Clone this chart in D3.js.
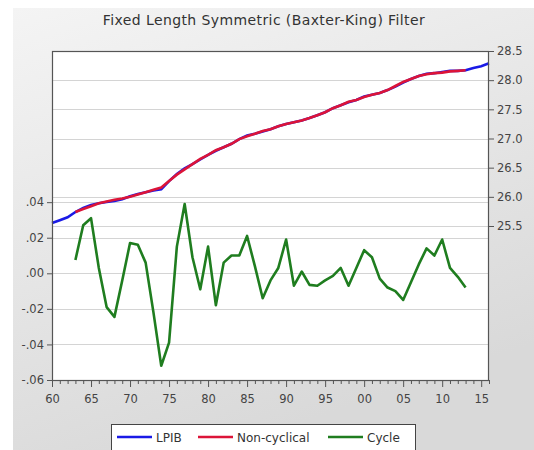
<!DOCTYPE html>
<html lang="en">
<head>
  <meta charset="UTF-8">
  <title>Baxter-King Filter</title>
  <script src="https://d3js.org/d3.v7.min.js"></script>
  <style>
    body, html { margin: 0; padding: 0; background: #fff; }
    text { font-family: "DejaVu Sans", sans-serif; }
  </style>
</head>
<body>
  <svg id="svg" width="534" height="450"></svg>
  <script>
    const years = d3.range(1960, 2017)
    const cycleYears = d3.range(1963, 2014)

    // log GDP, 1960-2016
    const lpib = [
      25.55, 25.60, 25.65, 25.74, 25.81, 25.86, 25.89, 25.91, 25.93, 25.96,
      26.01, 26.05, 26.08, 26.11, 26.13, 26.27, 26.39, 26.49, 26.56, 26.64,
      26.72, 26.79, 26.85, 26.91, 26.99, 27.05, 27.08, 27.12, 27.16, 27.21,
      27.25, 27.28, 27.31, 27.35, 27.40, 27.45, 27.52, 27.57, 27.62, 27.66,
      27.72, 27.75, 27.78, 27.83, 27.89, 27.96, 28.02, 28.07, 28.11, 28.12,
      28.14, 28.16, 28.16, 28.17, 28.21, 28.24, 28.29
    ]

    // trend component, 1963-2013
    const nonCyclical = [
      25.74, 25.79, 25.84, 25.89, 25.92, 25.95, 25.97, 26.00, 26.04, 26.08,
      26.12, 26.16, 26.27, 26.38, 26.47, 26.56, 26.65, 26.72, 26.80, 26.85,
      26.91, 26.99, 27.04, 27.08, 27.13, 27.16, 27.21, 27.25, 27.28, 27.31,
      27.35, 27.40, 27.45, 27.52, 27.57, 27.63, 27.66, 27.71, 27.75, 27.78,
      27.83, 27.90, 27.97, 28.02, 28.07, 28.10, 28.12, 28.13, 28.15, 28.16,
      28.17
    ]

    // cyclical component, 1963-2013
    const cycle = [
      0.0075, 0.027, 0.031, 0.003, -0.019, -0.0245, -0.004, 0.017, 0.016, 0.006,
      -0.022, -0.052, -0.039, 0.015, 0.039, 0.009, -0.009, 0.015, -0.018, 0.006,
      0.010, 0.010, 0.021, 0.004, -0.014, -0.004, 0.003, 0.019, -0.007, 0.001,
      -0.0065, -0.007, -0.004, -0.0015, 0.003, -0.007, 0.003, 0.013, 0.009, -0.003,
      -0.008, -0.010, -0.015, -0.005, 0.005, 0.014, 0.010, 0.019, 0.003, -0.002,
      -0.008
    ]

    const leftTicks = [-0.06, -0.04, -0.02, 0.00, 0.02, 0.04]
    const rightTicks = [25.5, 26.0, 26.5, 27.0, 27.5, 28.0, 28.5]
    const xLabels = d3.range(1960, 2016, 5)

    const svg = d3.select("svg")
    const W = 534, H = 450
    const pLeft = 52, pRight = 489, pTop = 51, pBottom = 380

    // panel background
    const defs = svg.append("defs")
    const grad = defs.append("linearGradient")
      .attr("id", "bg").attr("x1", 0).attr("y1", 0).attr("x2", 0.4).attr("y2", 1)
    grad.append("stop").attr("offset", "0%").attr("stop-color", "#f4f4f4")
    grad.append("stop").attr("offset", "100%").attr("stop-color", "#d9d9d9")
    svg.append("rect").attr("x", 13).attr("y", 8)
      .attr("width", W - 13).attr("height", H - 8).attr("fill", "url(#bg)")

    const x = d3.scaleLinear().domain([1960, 2016]).range([pLeft, pRight])
    const yL = d3.scaleLinear().domain([-0.06, 0.125]).range([pBottom, pTop])
    const yR = d3.scaleLinear().domain([22.86, 28.5]).range([pBottom, pTop])

    svg.append("rect").attr("x", pLeft).attr("y", pTop)
      .attr("width", pRight - pLeft).attr("height", pBottom - pTop).attr("fill", "#fff")

    // grid lines for both scales
    const grid = svg.append("g").attr("stroke", "#d4d4d4").attr("stroke-width", 1)
    leftTicks.filter(d => d > -0.06).forEach(d => {
      grid.append("line").attr("x1", pLeft).attr("x2", pRight)
        .attr("y1", Math.round(yL(d)) + 0.5).attr("y2", Math.round(yL(d)) + 0.5)
    })
    rightTicks.filter(d => d < 28.5).forEach(d => {
      grid.append("line").attr("x1", pLeft).attr("x2", pRight)
        .attr("y1", Math.round(yR(d)) + 0.5).attr("y2", Math.round(yR(d)) + 0.5)
    })

    // series
    const lineL = d3.line().x(d => x(d[0])).y(d => yR(d[1]))
    const lineC = d3.line().x(d => x(d[0])).y(d => yL(d[1]))

    svg.append("path")
      .datum(years.map((yr, i) => [yr, lpib[i]]))
      .attr("d", lineL).attr("fill", "none")
      .attr("stroke", "#1a1ae6").attr("stroke-width", 2.6)

    svg.append("path")
      .datum(cycleYears.map((yr, i) => [yr, nonCyclical[i]]))
      .attr("d", lineL).attr("fill", "none")
      .attr("stroke", "#dc1438").attr("stroke-width", 2.6)

    svg.append("path")
      .datum(cycleYears.map((yr, i) => [yr, cycle[i]]))
      .attr("d", lineC).attr("fill", "none")
      .attr("stroke", "#1f7d1f").attr("stroke-width", 2.6)
      .attr("stroke-linejoin", "round")

    // frame
    svg.append("rect").attr("x", pLeft + 0.5).attr("y", pTop + 0.5)
      .attr("width", pRight - pLeft - 1).attr("height", pBottom - pTop)
      .attr("fill", "none").attr("stroke", "#555").attr("stroke-width", 1.2)

    // left axis
    const fmtL = d => d === 0 ? ".00" : (d < 0 ? "-" : "") + d3.format(".2f")(Math.abs(d)).replace(/^0/, "")
    const axL = svg.append("g").attr("transform", `translate(${pLeft},0)`)
      .call(d3.axisLeft(yL).tickValues(leftTicks).tickFormat(fmtL).tickSize(5).tickPadding(3))
    axL.select(".domain").remove()

    // right axis
    const axR = svg.append("g").attr("transform", `translate(${pRight},0)`)
      .call(d3.axisRight(yR).tickValues(rightTicks).tickFormat(d3.format(".1f")).tickSize(5).tickPadding(3))
    axR.select(".domain").remove()

    // bottom axis: minor ticks every year, labels every five years
    const axB = svg.append("g").attr("transform", `translate(0,${pBottom})`)
      .call(d3.axisBottom(x).tickValues(years).tickFormat("").tickSize(4))
    axB.select(".domain").remove()
    axB.selectAll(".tick line").filter(d => d % 5 === 0).attr("y2", 7)
    const axB2 = svg.append("g").attr("transform", `translate(0,${pBottom})`)
      .call(d3.axisBottom(x).tickValues(xLabels).tickFormat(d => String(d).slice(2)).tickSize(0).tickPadding(15))
    axB2.select(".domain").remove()

    svg.selectAll(".tick line").attr("stroke", "#555")
    svg.selectAll(".tick text").attr("fill", "#444").attr("font-size", "11.5px")
      .attr("font-family", "DejaVu Sans")

    // title
    svg.append("text").attr("x", 264).attr("y", 25)
      .attr("text-anchor", "middle").attr("fill", "#333")
      .attr("font-size", "14px").attr("letter-spacing", "0.4px")
      .text("Fixed Length Symmetric (Baxter-King) Filter")

    // legend
    const legend = [
      { name: "LPIB", color: "#1a1ae6", x: 117 },
      { name: "Non-cyclical", color: "#dc1438", x: 198 },
      { name: "Cycle", color: "#1f7d1f", x: 328 }
    ]
    svg.append("rect").attr("x", 111.5).attr("y", 424.5).attr("width", 304).attr("height", 32)
      .attr("fill", "#fff").attr("stroke", "#444")
    const lg = svg.append("g").selectAll("g").data(legend).enter().append("g")
    lg.append("line").attr("x1", d => d.x).attr("x2", d => d.x + 35)
      .attr("y1", 437).attr("y2", 437).attr("stroke", d => d.color).attr("stroke-width", 2.6)
    lg.append("text").attr("x", d => d.x + 39).attr("y", 441.5)
      .attr("font-size", "12px").attr("fill", "#333").text(d => d.name)
  </script>
</body>
</html>
